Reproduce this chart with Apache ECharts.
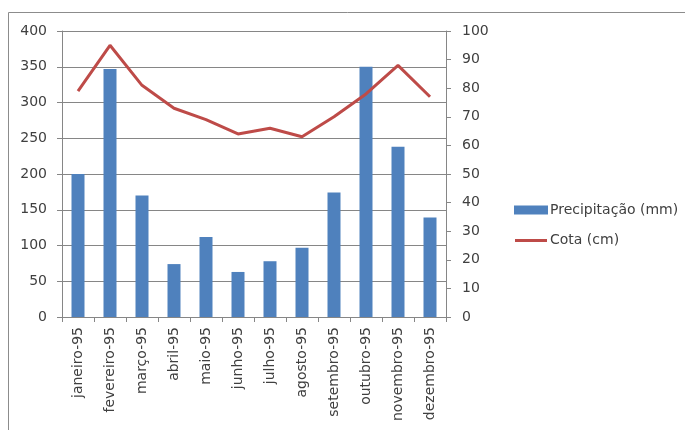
<!DOCTYPE html>
<html>
<head>
<meta charset="utf-8">
<script src="https://cdn.jsdelivr.net/npm/echarts@6/dist/echarts.min.js"></script>
<style>
  html, body { margin: 0; padding: 0; background: #fff; }
  #chart { width: 685px; height: 430px; }
</style>
</head>
<body>
<div id="chart"></div>
<script>
// meses
const meses = ['janeiro-95', 'fevereiro-95', 'março-95', 'abril-95', 'maio-95', 'junho-95',
  'julho-95', 'agosto-95', 'setembro-95', 'outubro-95', 'novembro-95', 'dezembro-95']
const precipitacao = [200, 347, 170, 74, 112, 63, 78, 97, 174, 350, 238, 139]
const cota = [79, 95, 81, 73, 69, 64, 66, 63, 70, 78, 88, 77]
const ticksEsq = [0, 50, 100, 150, 200, 250, 300, 350, 400]
const ticksDir = [0, 10, 20, 30, 40, 50, 60, 70, 80, 90, 100]

const fonte = 'DejaVu Sans'
const corTexto = '#404040'
const corEixo = '#868686'

const chart = echarts.init(document.getElementById('chart'))
chart.setOption({
  animation: false,
  textStyle: { fontFamily: fonte },
  graphic: [{
    type: 'rect',
    shape: { x: 8.5, y: 12.5, width: 720, height: 460 },
    style: { fill: 'none', stroke: '#8c8c8c', lineWidth: 1 }
  }],
  grid: { left: 62, top: 31, width: 384, height: 286, containLabel: false },
  legend: {
    orient: 'vertical',
    left: 509,
    top: 198,
    itemWidth: 34,
    itemHeight: 9,
    itemGap: 16,
    textStyle: { fontFamily: fonte, fontSize: 14, color: corTexto, padding: [0, 0, 0, -3] },
    data: [
      { name: 'Precipitação (mm)', icon: 'rect' },
      // linha fina dentro de uma caixa 34x9
      { name: 'Cota (cm)', icon: 'path://M0,0 M1,3.5 L33,3.5 L33,6.5 L1,6.5 Z M34,9' }
    ]
  },
  xAxis: {
    type: 'category',
    data: meses,
    axisLine: { lineStyle: { color: corEixo } },
    axisTick: { show: true, length: 5, lineStyle: { color: corEixo } },
    axisLabel: { rotate: 90, interval: 0, fontSize: 14, color: corTexto, margin: 10 }
  },
  yAxis: [{
    type: 'value',
    min: ticksEsq[0],
    max: ticksEsq[ticksEsq.length - 1],
    interval: 50,
    axisLine: { show: true, lineStyle: { color: corEixo } },
    axisTick: { show: true, length: 5, lineStyle: { color: corEixo } },
    splitLine: { lineStyle: { color: corEixo } },
    axisLabel: { fontSize: 14, color: corTexto, margin: 15 }
  }, {
    type: 'value',
    position: 'right',
    min: ticksDir[0],
    max: ticksDir[ticksDir.length - 1],
    interval: 10,
    axisLine: { show: true, lineStyle: { color: corEixo } },
    axisTick: { show: true, length: 5, lineStyle: { color: corEixo } },
    splitLine: { show: false },
    axisLabel: { fontSize: 14, color: corTexto, margin: 16 }
  }],
  series: [{
    name: 'Precipitação (mm)',
    type: 'bar',
    data: precipitacao,
    barWidth: 13,
    itemStyle: { color: '#4f81bd' }
  }, {
    name: 'Cota (cm)',
    type: 'line',
    yAxisIndex: 1,
    data: cota,
    symbol: 'none',
    lineStyle: { color: '#be4b48', width: 3 },
    itemStyle: { color: '#be4b48' }
  }]
})
</script>
</body>
</html>
